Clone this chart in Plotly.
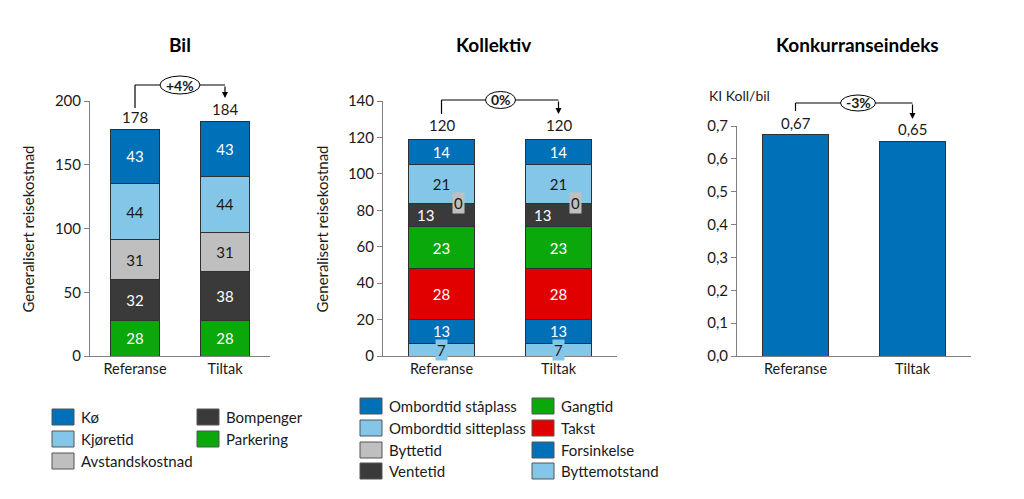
import plotly.graph_objects as go

W, H = 1024, 499

categories = ["Referanse", "Tiltak"]

# Bil (bottom to top)
bil_names = ["Parkering", "Bompenger", "Avstandskostnad", "Kjøretid", "Kø"]
bil_parkering = [28, 28]
bil_bompenger = [32, 38]
bil_avstand = [31, 31]
bil_kjoretid = [44, 44]
bil_ko = [43, 43]
bil_total = [178, 184]

# Kollektiv (bottom to top)
koll_names = ["Byttemotstand", "Forsinkelse", "Takst", "Gangtid", "Ventetid",
              "Byttetid", "Ombordtid sitteplass", "Ombordtid ståplass"]
koll_byttemotstand = [7, 7]
koll_forsinkelse = [13, 13]
koll_takst = [28, 28]
koll_gangtid = [23, 23]
koll_ventetid = [13, 13]
koll_byttetid = [0, 0]
koll_sitteplass = [21, 21]
koll_staplass = [14, 14]
koll_total = [120, 120]

# Konkurranseindeks
ki_values = [0.674, 0.653]

change_labels = ["+4%", "0%", "-3%"]

BLUE = "#0070B8"
LBLUE = "#84C6E8"
GRAY = "#BFBFBF"
DARK = "#3A3A3A"
GREEN = "#0AA80A"
RED = "#E00000"
EDGE = "#303030"
TXT = "#1a1a1a"
FONT = "Lato"

bil_series = [bil_parkering, bil_bompenger, bil_avstand, bil_kjoretid, bil_ko]
bil_colors = [GREEN, DARK, GRAY, LBLUE, BLUE]
bil_txtcol = ["white", "white", TXT, TXT, "white"]

koll_series = [koll_byttemotstand, koll_forsinkelse, koll_takst, koll_gangtid,
               koll_ventetid, koll_byttetid, koll_sitteplass, koll_staplass]
koll_colors = [LBLUE, BLUE, RED, GREEN, DARK, GRAY, LBLUE, BLUE]
koll_txtcol = [TXT, "white", "white", "white", "white", TXT, TXT, "white"]


def px(x):
    return x / W


def py(y):
    return 1 - y / H


fig = go.Figure()
annotations = []
shapes = []


def ann(**kw):
    d = dict(showarrow=False, xanchor="center", yanchor="middle")
    d.update(kw)
    annotations.append(d)


for name, vals, col, tc in zip(bil_names, bil_series, bil_colors, bil_txtcol):
    fig.add_trace(go.Bar(
        x=categories, y=vals, name=name, marker=dict(color=col, line=dict(color=EDGE, width=1)),
        text=[str(v) for v in vals], textposition="inside", insidetextanchor="middle",
        textangle=0, textfont=dict(color=tc, size=15, family=FONT),
        width=0.55, xaxis="x", yaxis="y", showlegend=False, hoverinfo="name+y"))

special = {"Byttemotstand": (0, LBLUE, TXT), "Byttetid": (17, GRAY, TXT), "Ventetid": (-16, None, "white")}
for name, vals, col, tc in zip(koll_names, koll_series, koll_colors, koll_txtcol):
    use_text = name not in special
    fig.add_trace(go.Bar(
        x=categories, y=vals, name=name, marker=dict(color=col, line=dict(color=EDGE, width=1)),
        text=[str(v) for v in vals] if use_text else None,
        textposition="inside", insidetextanchor="middle",
        textangle=0, textfont=dict(color=tc, size=15, family=FONT),
        width=0.56, xaxis="x2", yaxis="y2", showlegend=False, hoverinfo="name+y"))

# special labels for kollektiv
cum = [0, 0]
for name, vals in zip(koll_names, koll_series):
    if name in special:
        xs, bg, tc = special[name]
        for i, c in enumerate(categories):
            ann(x=c, y=cum[i] + vals[i] / 2, xref="x2", yref="y2", text=str(vals[i]),
                xshift=xs, bgcolor=bg, borderpad=1 if bg else 0,
                font=dict(size=15, color=tc, family=FONT))
    cum = [cum[i] + vals[i] for i in range(2)]

fig.add_trace(go.Bar(
    x=categories, y=ki_values, name="KI Koll/bil",
    marker=dict(color=BLUE, line=dict(color=EDGE, width=1)),
    width=0.57, xaxis="x3", yaxis="y3", showlegend=False, hoverinfo="y"))

# total labels
for xa, ya, tots, fmt in [("x", "y", bil_total, "{:d}"), ("x2", "y2", koll_total, "{:d}"),
                          ("x3", "y3", ki_values, "{:.2f}")]:
    for c, t in zip(categories, tots):
        s = fmt.format(t).replace(".", ",")
        ann(x=c, y=t, xref=xa, yref=ya, text=s, yanchor="bottom", yshift=1,
            font=dict(size=15, color=TXT, family=FONT))

# change brackets: (xref, left-top y px, bracket y px, arrow tip y px, ellipse center x px, ellipse w, h)
brackets = [("x", 108, 85, 98, 180, 40, 18),
            ("x2", 114, 100, 114, 500.5, 30, 17),
            ("x3", 111, 103, 119, 858, 35, 16)]
for (xa, ytop, ybr, ytip, ecx, ew, eh), lab in zip(brackets, change_labels):
    shapes.append(dict(type="line", xref=xa, yref="paper", x0=0, x1=0,
                       y0=py(ytop), y1=py(ybr), line=dict(color="black", width=1.2)))
    shapes.append(dict(type="line", xref=xa, yref="paper", x0=0, x1=1,
                       y0=py(ybr), y1=py(ybr), line=dict(color="black", width=1.2)))
    annotations.append(dict(x=1, y=py(ytip), xref=xa, yref="paper", ax=0, ay=-(ytip - ybr),
                            axref="pixel", ayref="pixel", showarrow=True, arrowhead=2,
                            arrowsize=1, arrowwidth=1.2, arrowcolor="black", text=""))
    shapes.append(dict(type="circle", xref="paper", yref="paper",
                       x0=px(ecx - ew / 2), x1=px(ecx + ew / 2),
                       y0=py(ybr + eh / 2), y1=py(ybr - eh / 2),
                       fillcolor="white", line=dict(color="black", width=1)))
    ann(x=px(ecx), y=py(ybr), xref="paper", yref="paper", text="<b>" + lab + "</b>",
        font=dict(size=14, color=TXT, family=FONT))

# titles
for t, xc in [("Bil", 180), ("Kollektiv", 493), ("Konkurranseindeks", 857)]:
    ann(x=px(xc), y=py(45), xref="paper", yref="paper", text="<b>" + t + "</b>",
        font=dict(size=19, color="black", family=FONT))

ann(x=px(739), y=py(96), xref="paper", yref="paper", text="KI Koll/bil",
    font=dict(size=14, color=TXT, family=FONT))

# y-axis titles
for xc in [28, 322]:
    ann(x=px(xc), y=py(229.5), xref="paper", yref="paper", text="Generalisert reisekostnad",
        textangle=-90, font=dict(size=15, color=TXT, family=FONT))


# legends (manual, column-major, top-of-stack first)
def legend(names, colors, x_cols, y_rows, sw=22, sh=16):
    items = list(zip(names, colors))[::-1]
    nrows = len(y_rows)
    for k, (n, c) in enumerate(items):
        col, row = divmod(k, nrows)
        x0 = x_cols[col]
        yc = y_rows[row]
        shapes.append(dict(type="rect", xref="paper", yref="paper",
                           x0=px(x0), x1=px(x0 + sw), y0=py(yc + sh / 2), y1=py(yc - sh / 2),
                           fillcolor=c, line=dict(color="#555555", width=1)))
        ann(x=px(x0 + sw + 5), y=py(yc), xref="paper", yref="paper", text=n, xanchor="left",
            font=dict(size=15, color=TXT, family=FONT))


legend(bil_names, bil_colors, [52, 197], [417, 439, 461])
legend(koll_names, koll_colors, [360, 532], [406, 428, 450, 471])

axis_common = dict(showline=True, linecolor="#808080", linewidth=1, showgrid=False, zeroline=False,
                   automargin=False)
ytick = dict(size=15, color=TXT, family=FONT)
xtick = dict(size=14.5, color=TXT, family=FONT)
fig.update_layout(
    template="none",
    width=W, height=H, margin=dict(l=0, r=0, t=0, b=0, pad=0),
    paper_bgcolor="white", plot_bgcolor="white", barmode="stack", bargap=0.45,
    separators=", ", font=dict(family=FONT, color=TXT),
    xaxis=dict(domain=[px(90), px(270)], anchor="y", ticks="", range=[-0.5, 1.5],
               tickfont=xtick, **axis_common),
    yaxis=dict(domain=[py(356), py(101)], anchor="x", range=[0, 200], dtick=50, ticks="outside",
               ticklen=5, tickcolor="#808080", tickfont=ytick, **axis_common),
    xaxis2=dict(domain=[px(383), px(617)], anchor="y2", ticks="", range=[-0.5, 1.5],
                tickfont=xtick, **axis_common),
    yaxis2=dict(domain=[py(356), py(101)], anchor="x2", range=[0, 140], dtick=20, ticks="outside",
                ticklen=5, tickcolor="#808080", tickfont=ytick, **axis_common),
    xaxis3=dict(domain=[px(737), px(971)], anchor="y3", ticks="", range=[-0.5, 1.5],
                tickfont=xtick, **axis_common),
    yaxis3=dict(domain=[py(356), py(126)], anchor="x3", range=[0, 0.7], dtick=0.1, tickformat=".1f",
                ticks="outside", ticklen=5, tickcolor="#808080", tickfont=ytick, **axis_common),
    annotations=annotations, shapes=shapes,
    uniformtext=dict(minsize=15, mode="show"),
)

fig.write_html("out.html", config={"displayModeBar": False},
               post_script="document.body.style.margin='0';")
